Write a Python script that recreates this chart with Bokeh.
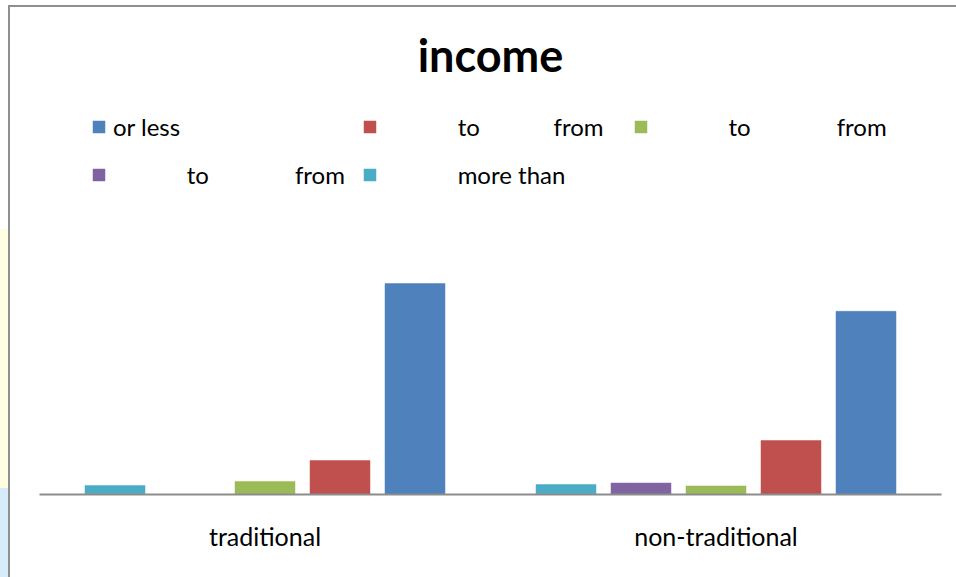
from bokeh.plotting import figure
from bokeh.models import Range1d, FactorRange, ColumnDataSource, Legend, LegendItem
from bokeh.transform import dodge
from bokeh.embed import file_html
from bokeh.resources import INLINE

# ---- data (percent of each group) ----
categories = ["traditional", "non-traditional"]
or_less = [79.0, 68.6]
band_a = [12.7, 20.2]
band_b = [4.9, 3.2]
band_c = [0.0, 4.3]
more_than = [3.4, 3.7]

label_words = [["or less"], ["to", "from"], ["to", "from"], ["to", "from"], ["more than"]]
title_text = "income"

# ---- styling ----
colors = ["#4F81BD", "#C0504D", "#9BBB59", "#8064A2", "#4BACC6"]
offsets = [0.3326, 0.1663, 0.0, -0.1663, -0.3326]
bar_w = 0.133
FONT = "Lato"
NB = "\u00a0"

def pad(n):
    return NB * n

# gaps (non-breaking spaces) standing in for the numerals missing in the original
legend_labels = [
    label_words[0][0],
    pad(12) + label_words[1][0] + pad(12) + label_words[1][1] + pad(2),
    pad(12) + label_words[2][0] + pad(14) + label_words[2][1],
    pad(12) + label_words[3][0] + pad(14) + label_words[3][1],
    pad(12) + label_words[4][0],
]

series = [or_less, band_a, band_b, band_c, more_than]
data = {"cat": categories}
for i, s in enumerate(series):
    data[f"s{i}"] = s
source = ColumnDataSource(data)

p = figure(
    width=956, height=577,
    x_range=FactorRange(*categories, range_padding=0.0),
    y_range=Range1d(0, 151.3),
    output_backend="svg", toolbar_location=None,
    min_border_left=39, min_border_right=15, min_border_top=90, min_border_bottom=83,
)
p.background_fill_color = "white"
p.border_fill_alpha = 0
p.outline_line_color = None
p.xgrid.visible = False
p.ygrid.visible = False
p.yaxis.visible = False

# chart-area border (grey, top and left) and the window strip behind it
g = "#8f8f8f"
p.styles = {
    "background-color": "white",
    "background-image": (f"linear-gradient({g},{g}), linear-gradient({g},{g}), "
                         "linear-gradient(#FFFDE2,#FFFDE2), linear-gradient(#D7ECFA,#D7ECFA)"),
    "background-position": "8px 5px, 8px 5px, 0px 229px, 0px 488px",
    "background-size": "2px 100%, 100% 2px, 8px 259px, 8px 89px",
    "background-repeat": "no-repeat",
}

renderers = []
for i in range(5):
    r = p.vbar(x=dodge("cat", offsets[i], range=p.x_range), top=f"s{i}", width=bar_w,
               source=source, fill_color=colors[i], line_color=colors[i], line_width=0.5)
    renderers.append(r)

ax = p.xaxis[0]
ax.axis_line_color = "#8c8c8c"
ax.axis_line_width = 2
ax.major_tick_line_color = None
ax.minor_tick_line_color = None
ax.major_label_text_font = FONT
ax.major_label_text_font_size = "25px"
ax.major_label_text_color = "black"
ax.major_label_standoff = 20

p.title.text = title_text
p.title.align = "center"
p.title.text_font = FONT
p.title.text_font_style = "bold"
p.title.text_font_size = "45px"
p.title.text_color = "black"
p.title.standoff = 17

legend = Legend(
    items=[LegendItem(label=legend_labels[i], renderers=[renderers[i]]) for i in range(5)],
    location=(52, 304), orientation="horizontal", ncols=3,
    padding=0, margin=0, spacing=17, border_line_color=None, background_fill_alpha=0,
    glyph_width=15, glyph_height=15, label_standoff=7, label_height=31,
    label_text_font=FONT, label_text_font_size="24px", label_text_color="black",
)
p.add_layout(legend, "center")

open("out.html", "w").write(file_html(p, INLINE))
